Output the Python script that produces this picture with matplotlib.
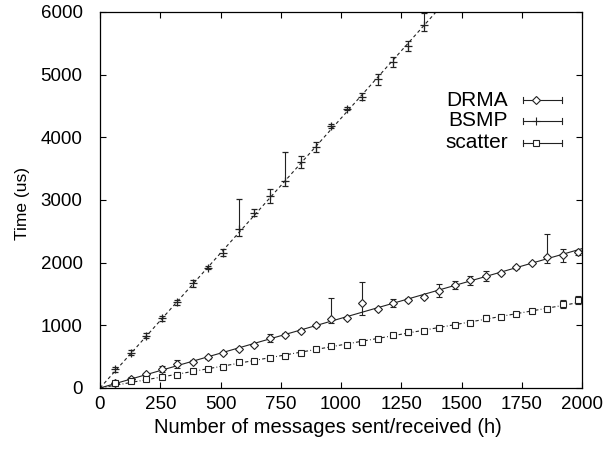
import numpy as np
import matplotlib
matplotlib.use("Agg")
import matplotlib.pyplot as plt

plt.rcParams['font.family'] = ['Liberation Sans', 'DejaVu Sans']

# ---- data ----
step = 64
x_all = np.arange(1, 32) * step  # 64 .. 1984

bsmp_y = [300, 565, 835, 1110, 1365, 1670, 1920, 2160, 2535, 2800, 3065,
          3305, 3600, 3840, 4180, 4460, 4650, 4925, 5195, 5450, 5800]
bsmp_lo = [40, 40, 40, 40, 40, 60, 25, 55, 115, 50, 110,
           75, 95, 80, 30, 20, 60, 90, 80, 80, 110]
bsmp_hi = [40, 40, 40, 40, 40, 60, 25, 55, 475, 50, 110,
           465, 95, 80, 30, 20, 60, 90, 80, 80, 180]

drma_y = [75, 150, 220, 300, 380, 420, 490, 555, 620, 690, 800,
          850, 915, 1000, 1100, 1115, 1350, 1260, 1355, 1410, 1460,
          1555, 1640, 1720, 1790, 1835, 1925, 1995, 2085, 2120, 2165]
drma_lo = [20, 20, 20, 50, 60, 20, 20, 20, 20, 20, 60,
           20, 20, 20, 70, 20, 190, 20, 60, 20, 20,
           100, 60, 70, 80, 20, 20, 20, 95, 105, 40]
drma_hi = [20, 20, 20, 50, 60, 20, 20, 20, 20, 20, 60,
           20, 20, 20, 330, 20, 340, 20, 60, 20, 20,
           100, 60, 70, 80, 20, 20, 20, 375, 105, 40]

scat_y = [75, 115, 145, 170, 205, 275, 300, 340, 410, 435, 475,
          505, 560, 620, 675, 685, 730, 780, 845, 890, 915,
          950, 1005, 1035, 1115, 1135, 1180, 1230, 1260, 1340, 1405]
scat_err = [25, 25, 25, 25, 25, 25, 25, 25, 30, 25, 25,
            25, 30, 30, 30, 25, 25, 25, 25, 50, 25,
            25, 25, 25, 50, 25, 25, 25, 25, 70, 70]

series_names = ["DRMA", "BSMP", "scatter"]
x_ticks = [0, 250, 500, 750, 1000, 1250, 1500, 1750, 2000]
y_ticks = [0, 1000, 2000, 3000, 4000, 5000, 6000]

# ---- figure ----
fig = plt.figure(figsize=(6.07, 4.49), dpi=100)
ax = fig.add_axes([100/607, 61/449, 482/607, 376/449])

def fit_line(x, y):
    x = np.asarray(x, float); y = np.asarray(y, float)
    return (x * y).sum() / (x * x).sum()

xl = np.array([0, 2000])
x_b = x_all[:len(bsmp_y)]

col = '#222222'
# fitted lines
ax.plot(xl, fit_line(x_all, drma_y) * xl, '-', color=col, lw=0.8)
ax.plot(xl, fit_line(x_b, bsmp_y) * xl, color=col, lw=0.8, dashes=(3, 2.5))
ax.plot(xl, fit_line(x_all, scat_y) * xl, color=col, lw=0.8, dashes=(3, 2, 0.8, 2))

ekw = dict(ecolor=col, elinewidth=0.8, capsize=2.5, capthick=0.8, linestyle='none')
ax.errorbar(x_all, drma_y, yerr=[drma_lo, drma_hi], marker='D', ms=4,
            mfc='white', mec=col, mew=0.8, **ekw)
ax.errorbar(x_b, bsmp_y, yerr=[bsmp_lo, bsmp_hi], marker='+', ms=6,
            mec=col, mew=0.9, **ekw)
ax.errorbar(x_all, scat_y, yerr=[scat_err, scat_err], marker='s', ms=5,
            mfc='white', mec=col, mew=0.8, **ekw)

ax.set_xlim(0, 2000)
ax.set_ylim(0, 6000)
ax.set_xticks(x_ticks)
ax.set_yticks(y_ticks)
ax.tick_params(direction='in', length=4, width=0.8, top=True, right=True,
               labelsize=13.5, color='black')
ax.tick_params(axis='x', pad=6)
ax.tick_params(axis='y', pad=12.5)
for s in ax.spines.values():
    s.set_linewidth(0.9)

ax.set_xlabel("Number of messages sent/received (h)", fontsize=14.5)
ax.xaxis.set_label_coords(0.473, -0.08)
ax.set_ylabel("Time (us)", fontsize=12.5)
ax.yaxis.set_label_coords(-0.145, 0.49)

# manual gnuplot-style key
markers = [('D', 4), ('+', 6), ('s', 5)]
key_y = [1 - (100 - 12) / 376, 1 - (121 - 12) / 376, 1 - (143 - 12) / 376]
tx = (508 - 100) / 482
l0, l1 = (523 - 100) / 482, (562 - 100) / 482
pm = (536 - 100) / 482
for name, (m, ms), yy in zip(series_names, markers, key_y):
    ax.text(tx, yy, name, transform=ax.transAxes, ha='right', va='center',
            fontsize=15)
    ax.plot([l0, l1], [yy, yy], color=col, lw=0.8, transform=ax.transAxes,
            clip_on=False)
    for xe in (l0, l1):
        ax.plot([xe, xe], [yy - 0.008, yy + 0.008], color=col, lw=0.8,
                transform=ax.transAxes, clip_on=False)
    ax.plot([pm], [yy], marker=m, ms=ms, mfc='white', mec=col, mew=0.8,
            transform=ax.transAxes, clip_on=False, linestyle='none')

fig.savefig("out.png", dpi=100)
